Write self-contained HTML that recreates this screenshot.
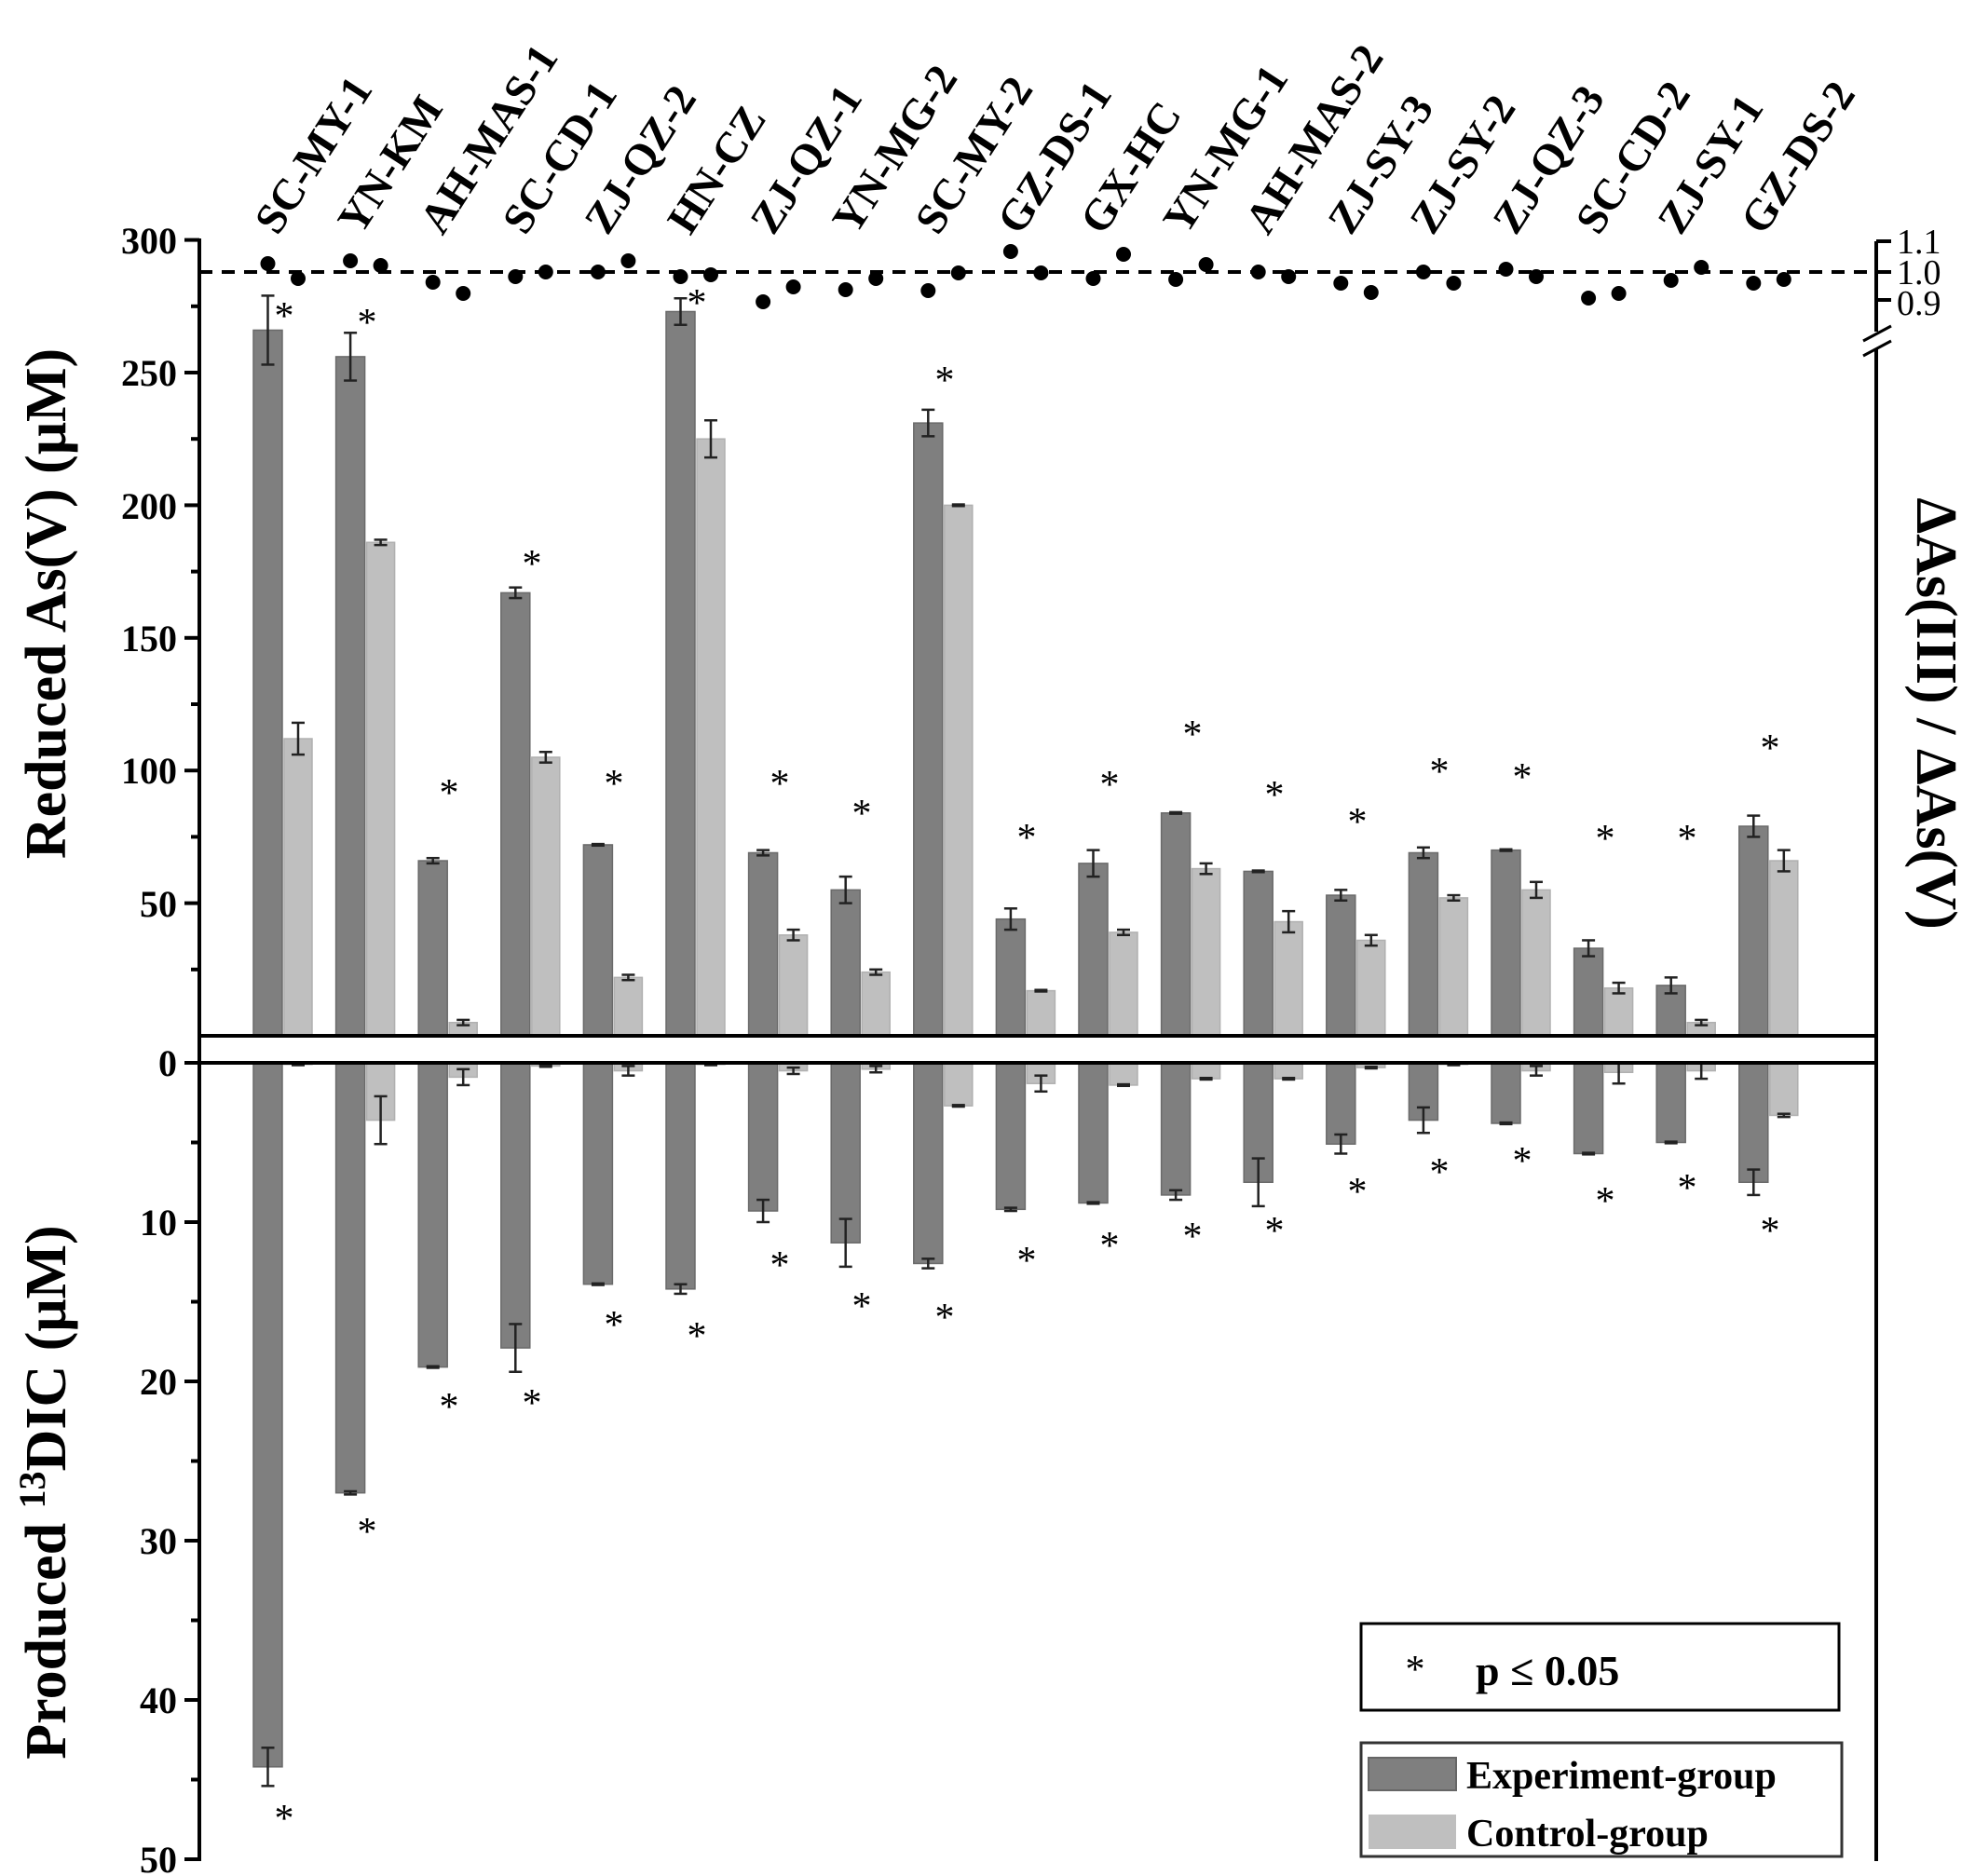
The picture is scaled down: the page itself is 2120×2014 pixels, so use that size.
<!DOCTYPE html>
<html><head><meta charset="utf-8"><style>
html,body{margin:0;padding:0;background:#fff;}
svg{display:block;}
text{font-family:"Liberation Serif",serif;font-weight:bold;fill:#000;}
.st{font-size:42px;font-weight:normal;text-anchor:middle;}
.lb{font-size:47px;}
.tk{font-size:40px;text-anchor:end;}
.rt{font-size:38px;font-weight:normal;}
</style></head><body>
<svg id="s" width="2120" height="2014" viewBox="0 0 2120 2014" xmlns="http://www.w3.org/2000/svg">
<g id="shapes"></g>
<g stroke="#000" stroke-width="4" fill="none">
<line x1="214" y1="256" x2="214" y2="1998"/>
<line x1="212" y1="1112" x2="2016" y2="1112"/>
<line x1="212" y1="1141" x2="2016" y2="1141"/>
<line x1="2014" y1="259" x2="2014" y2="356"/>
<line x1="2014" y1="374" x2="2014" y2="1998"/>
<line x1="2000" y1="366" x2="2030" y2="350" stroke-width="3"/>
<line x1="2000" y1="382" x2="2030" y2="366" stroke-width="3"/>
<line x1="2014" y1="259" x2="2030" y2="259"/>
<line x1="2014" y1="292" x2="2030" y2="292"/>
<line x1="2014" y1="322" x2="2030" y2="322"/>
<line x1="214" y1="292" x2="2014" y2="292" stroke-dasharray="14 10"/>
</g>
<g id="ticks" stroke="#000" stroke-width="4"></g>
<text class="tk" x="190" y="272">300</text>
<text class="tk" x="190" y="414">250</text>
<text class="tk" x="190" y="557">200</text>
<text class="tk" x="190" y="699">150</text>
<text class="tk" x="190" y="841">100</text>
<text class="tk" x="190" y="984">50</text>
<text class="tk" x="190" y="1155">0</text>
<text class="tk" x="190" y="1326">10</text>
<text class="tk" x="190" y="1497">20</text>
<text class="tk" x="190" y="1668">30</text>
<text class="tk" x="190" y="1839">40</text>
<text class="tk" x="190" y="2010">50</text>
<text class="rt" x="2036" y="272">1.1</text>
<text class="rt" x="2036" y="305">1.0</text>
<text class="rt" x="2036" y="338">0.9</text>
<text transform="translate(70,648) rotate(-90)" text-anchor="middle" font-size="62">Reduced As(V)  (μM)</text>
<text transform="translate(70,1602) rotate(-90)" text-anchor="middle" font-size="62">Produced <tspan font-size="40" dy="-22">13</tspan><tspan dy="22">DIC  (μM)</tspan></text>
<text transform="translate(2058,766) rotate(90)" text-anchor="middle" font-size="62">ΔAs(III) / ΔAs(V)</text>
<g>
<text class="lb" transform="translate(298,254) rotate(-57)">SC-MY-1</text>
<text class="lb" transform="translate(387,254) rotate(-57)">YN-KM</text>
<text class="lb" transform="translate(475,254) rotate(-57)">AH-MAS-1</text>
<text class="lb" transform="translate(564,254) rotate(-57)">SC-CD-1</text>
<text class="lb" transform="translate(652,254) rotate(-57)">ZJ-QZ-2</text>
<text class="lb" transform="translate(741,254) rotate(-57)">HN-CZ</text>
<text class="lb" transform="translate(830,254) rotate(-57)">ZJ-QZ-1</text>
<text class="lb" transform="translate(918,254) rotate(-57)">YN-MG-2</text>
<text class="lb" transform="translate(1007,254) rotate(-57)">SC-MY-2</text>
<text class="lb" transform="translate(1095,254) rotate(-57)">GZ-DS-1</text>
<text class="lb" transform="translate(1184,254) rotate(-57)">GX-HC</text>
<text class="lb" transform="translate(1273,254) rotate(-57)">YN-MG-1</text>
<text class="lb" transform="translate(1361,254) rotate(-57)">AH-MAS-2</text>
<text class="lb" transform="translate(1450,254) rotate(-57)">ZJ-SY-3</text>
<text class="lb" transform="translate(1538,254) rotate(-57)">ZJ-SY-2</text>
<text class="lb" transform="translate(1627,254) rotate(-57)">ZJ-QZ-3</text>
<text class="lb" transform="translate(1716,254) rotate(-57)">SC-CD-2</text>
<text class="lb" transform="translate(1804,254) rotate(-57)">ZJ-SY-1</text>
<text class="lb" transform="translate(1893,254) rotate(-57)">GZ-DS-2</text>
</g>
<text class="st" x="305" y="353">*</text>
<text class="st" x="394" y="360">*</text>
<text class="st" x="482" y="865">*</text>
<text class="st" x="571" y="619">*</text>
<text class="st" x="659" y="855">*</text>
<text class="st" x="748" y="339">*</text>
<text class="st" x="837" y="855">*</text>
<text class="st" x="925" y="887">*</text>
<text class="st" x="1014" y="422">*</text>
<text class="st" x="1102" y="913">*</text>
<text class="st" x="1191" y="856">*</text>
<text class="st" x="1280" y="802">*</text>
<text class="st" x="1368" y="867">*</text>
<text class="st" x="1457" y="896">*</text>
<text class="st" x="1545" y="842">*</text>
<text class="st" x="1634" y="848">*</text>
<text class="st" x="1723" y="914">*</text>
<text class="st" x="1811" y="914">*</text>
<text class="st" x="1900" y="817">*</text>
<text class="st" x="305" y="1966">*</text>
<text class="st" x="394" y="1658">*</text>
<text class="st" x="482" y="1524">*</text>
<text class="st" x="571" y="1520">*</text>
<text class="st" x="659" y="1436">*</text>
<text class="st" x="748" y="1448">*</text>
<text class="st" x="837" y="1372">*</text>
<text class="st" x="925" y="1416">*</text>
<text class="st" x="1014" y="1428">*</text>
<text class="st" x="1102" y="1367">*</text>
<text class="st" x="1191" y="1351">*</text>
<text class="st" x="1280" y="1341">*</text>
<text class="st" x="1368" y="1335">*</text>
<text class="st" x="1457" y="1293">*</text>
<text class="st" x="1545" y="1272">*</text>
<text class="st" x="1634" y="1260">*</text>
<text class="st" x="1723" y="1303">*</text>
<text class="st" x="1811" y="1289">*</text>
<text class="st" x="1900" y="1335">*</text>
<rect x="1461" y="1743" width="513" height="93" fill="none" stroke="#000" stroke-width="3"/>
<text class="st" x="1519" y="1806">*</text>
<text x="1584" y="1809" font-size="46">p ≤ 0.05</text>
<rect x="1461" y="1871" width="516" height="122" fill="none" stroke="#333" stroke-width="3"/>
<rect x="1469" y="1887" width="94" height="35" fill="#7f7f7f" stroke="#666" stroke-width="2"/>
<rect x="1469" y="1948" width="94" height="37" fill="#bfbfbf"/>
<text x="1574" y="1920" font-size="42">Experiment-group</text>
<text x="1574" y="1982" font-size="42">Control-group</text>
</svg>
<script>
(function(){
var NS="http://www.w3.org/2000/svg";
var g=document.getElementById("shapes"),tk=document.getElementById("ticks");
function el(n,a,p){var e=document.createElementNS(NS,n);for(var k in a)e.setAttribute(k,a[k]);(p||g).appendChild(e);return e;}
var up=[[266,13,112,6],[256,9,186,1],[66,1,5,1],[167,2,105,2],[72,0.3,22,1],[273,5,225,7],[69,1,38,2],[55,5,24,1],[231,5,200,0.3],[44,4,17,0.3],[65,5,39,1],[84,0.3,63,2],[62,0.3,43,4],[53,2,36,2],[69,2,52,1],[70,0.3,55,3],[33,3,18,2],[19,3,5,1],[79,4,66,4]];
var lo=[[44.2,1.2,0.1,0.05],[27,0.1,3.6,1.5],[19.1,0.05,0.9,0.5],[17.9,1.5,0.2,0.05],[13.9,0.05,0.5,0.3],[14.2,0.3,0.1,0.05],[9.3,0.7,0.5,0.2],[11.3,1.5,0.4,0.2],[12.6,0.3,2.7,0.05],[9.2,0.1,1.3,0.5],[8.8,0.05,1.4,0.05],[8.3,0.3,1.0,0.05],[7.5,1.5,1.0,0.05],[5.1,0.6,0.3,0.05],[3.6,0.8,0.1,0.05],[3.8,0.05,0.5,0.3],[5.7,0.05,0.6,0.7],[5.0,0.05,0.5,0.5],[7.5,0.8,3.3,0.1]];
var dots=[[283,299],[280,285],[303,315],[297,292],[292,280],[297,295],[324,308],[311,299],[312,293],[270,293],[299,273],[300,284],[292,297],[304,314],[292,304],[289,297],[320,315],[301,287],[304,300]];
function yu(v){return 1112-v*2.848;}
function yl(v){return 1141+v*17.1;}
function eb(x,y1,y2){el("line",{x1:x,y1:y1,x2:x,y2:y2,stroke:"#222","stroke-width":2.5});el("line",{x1:x-7,y1:y1,x2:x+7,y2:y1,stroke:"#222","stroke-width":2.5});el("line",{x1:x-7,y1:y2,x2:x+7,y2:y2,stroke:"#222","stroke-width":2.5});}
for(var i=0;i<19;i++){
 var ex=272+88.6*i,cx=ex+33;
 var u=up[i],l=lo[i];
 el("rect",{x:ex,y:yu(u[0]),width:31,height:1112-yu(u[0]),fill:"#7f7f7f",stroke:"#6a6a6a","stroke-width":1.5});
 el("rect",{x:cx,y:yu(u[2]),width:30,height:1112-yu(u[2]),fill:"#bfbfbf",stroke:"#b0b0b0","stroke-width":1.5});
 eb(ex+15.5,yu(u[0]+u[1]),yu(u[0]-u[1]));
 eb(cx+15,yu(u[2]+u[3]),yu(u[2]-u[3]));
 el("rect",{x:ex,y:1141,width:31,height:yl(l[0])-1141,fill:"#7f7f7f",stroke:"#6a6a6a","stroke-width":1.5});
 el("rect",{x:cx,y:1141,width:30,height:yl(l[2])-1141,fill:"#bfbfbf",stroke:"#b0b0b0","stroke-width":1.5});
 eb(ex+15.5,yl(l[0]-l[1]),yl(l[0]+l[1]));
 eb(cx+15,yl(Math.max(0,l[2]-l[3])),yl(l[2]+l[3]));
 el("circle",{cx:ex+15.5,cy:dots[i][0],r:8,fill:"#000"});
 el("circle",{cx:cx+15,cy:dots[i][1],r:8,fill:"#000"});
}
for(var v=300;v>=25;v-=25){var y=yu(v);el("line",{x1:v%50==0?198:205,y1:y,x2:214,y2:y},tk);}
for(var k=0;k<=10;k++){var y=1141+k*85.5;el("line",{x1:k%2==0?198:205,y1:y,x2:214,y2:y},tk);}
})();
</script>
</body></html>
